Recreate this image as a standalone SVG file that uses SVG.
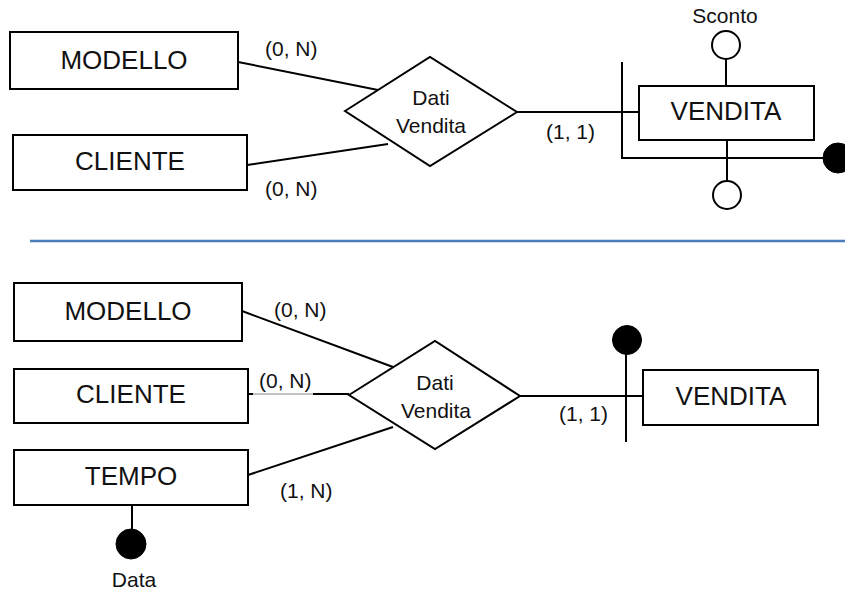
<svg xmlns="http://www.w3.org/2000/svg" width="845" height="593" viewBox="0 0 845 593">
  <style>
    .box { fill: #fff; stroke: #000; stroke-width: 2; }
    .rel { fill: #fff; stroke: #000; stroke-width: 2; stroke-linejoin: miter; }
    .ln { stroke: #000; stroke-width: 2; fill: none; }
    .thin { stroke: #888; stroke-width: 1; fill: none; }
    .attr { fill: #fff; stroke: #000; stroke-width: 2; }
    .id { fill: #000; stroke: #000; stroke-width: 1; }
    .ent { font-family: "Liberation Sans", Arial, sans-serif; font-size: 26px; fill: #111; text-anchor: middle; }
    .lbl { font-family: "Liberation Sans", Arial, sans-serif; font-size: 21px; fill: #111; }
    .mid { text-anchor: middle; }
    .sep { stroke: #4A7EBB; stroke-width: 2.5; }
  </style>

  <!-- Upper schema: VENDITA as entity with external identifier -->
  <g id="connectors-top">
    <line class="ln" x1="238" y1="62" x2="378" y2="90"/>
    <line class="ln" x1="247" y1="165" x2="388" y2="144"/>
    <line class="ln" x1="517" y1="112" x2="640" y2="112"/>
    <polyline class="ln" points="622,62 622,158 826,158"/>
    <line class="ln" x1="726" y1="59" x2="726" y2="86"/>
    <line class="ln" x1="727" y1="140" x2="727" y2="181"/>
  </g>

  <g id="modello-top">
    <rect class="box" x="10" y="32" width="228" height="57"/>
    <text class="ent" x="124" y="69">MODELLO</text>
  </g>
  <g id="cliente-top">
    <rect class="box" x="13" y="135" width="234" height="55"/>
    <text class="ent" x="130" y="170">CLIENTE</text>
  </g>
  <g id="dati-vendita-top">
    <polygon class="rel" points="345,111 430,57 517,112 430,166"/>
    <text class="lbl mid" x="431" y="105">Dati</text>
    <text class="lbl mid" x="431" y="133">Vendita</text>
  </g>
  <g id="vendita-top">
    <rect class="box" x="639" y="86" width="175" height="54"/>
    <text class="ent" x="726" y="120">VENDITA</text>
  </g>
  <g id="sconto">
    <circle class="attr" cx="726" cy="45" r="14"/>
    <text class="lbl mid" x="725" y="23">Sconto</text>
  </g>
  <g id="attr-bottom-top">
    <circle class="attr" cx="727" cy="195" r="14"/>
  </g>
  <g id="id-top">
    <circle class="id" cx="838" cy="158" r="15"/>
  </g>
  <g id="card-top">
    <text class="lbl" x="265" y="56">(0, N)</text>
    <text class="lbl" x="265" y="196">(0, N)</text>
    <text class="lbl" x="546" y="139">(1, 1)</text>
  </g>

  <!-- Separator -->
  <line class="sep" x1="30" y1="241" x2="845" y2="241"/>

  <!-- Lower schema: VENDITA identified through the relationship -->
  <g id="connectors-bottom">
    <line class="ln" x1="242" y1="311" x2="393" y2="367"/>
    <line class="ln" x1="248" y1="394" x2="253" y2="394"/>
    <line class="thin" x1="253" y1="394" x2="313" y2="394"/>
    <line class="ln" x1="313" y1="394" x2="349" y2="394"/>
    <line class="ln" x1="248" y1="475" x2="393" y2="427"/>
    <line class="ln" x1="520" y1="396" x2="645" y2="396"/>
    <line class="ln" x1="626" y1="340" x2="626" y2="442"/>
    <line class="ln" x1="132" y1="505" x2="132" y2="532"/>
  </g>

  <g id="modello-bottom">
    <rect class="box" x="14" y="283" width="228" height="58"/>
    <text class="ent" x="128" y="320">MODELLO</text>
  </g>
  <g id="cliente-bottom">
    <rect class="box" x="14" y="369" width="234" height="54"/>
    <text class="ent" x="131" y="403">CLIENTE</text>
  </g>
  <g id="tempo">
    <rect class="box" x="14" y="450" width="234" height="55"/>
    <text class="ent" x="131" y="485">TEMPO</text>
  </g>
  <g id="data">
    <circle class="id" cx="131" cy="544" r="15"/>
    <text class="lbl mid" x="134" y="587">Data</text>
  </g>
  <g id="dati-vendita-bottom">
    <polygon class="rel" points="349,395 435,341 520,396 435,449"/>
    <text class="lbl mid" x="435" y="390">Dati</text>
    <text class="lbl mid" x="436" y="418">Vendita</text>
  </g>
  <g id="vendita-bottom">
    <rect class="box" x="643" y="370" width="175" height="55"/>
    <text class="ent" x="731" y="405">VENDITA</text>
  </g>
  <g id="id-bottom">
    <circle class="id" cx="627" cy="340" r="14.5"/>
  </g>
  <g id="card-bottom">
    <text class="lbl" x="274" y="317">(0, N)</text>
    <text class="lbl" x="259" y="388">(0, N)</text>
    <text class="lbl" x="280" y="498">(1, N)</text>
    <text class="lbl" x="559" y="421">(1, 1)</text>
  </g>
</svg>
